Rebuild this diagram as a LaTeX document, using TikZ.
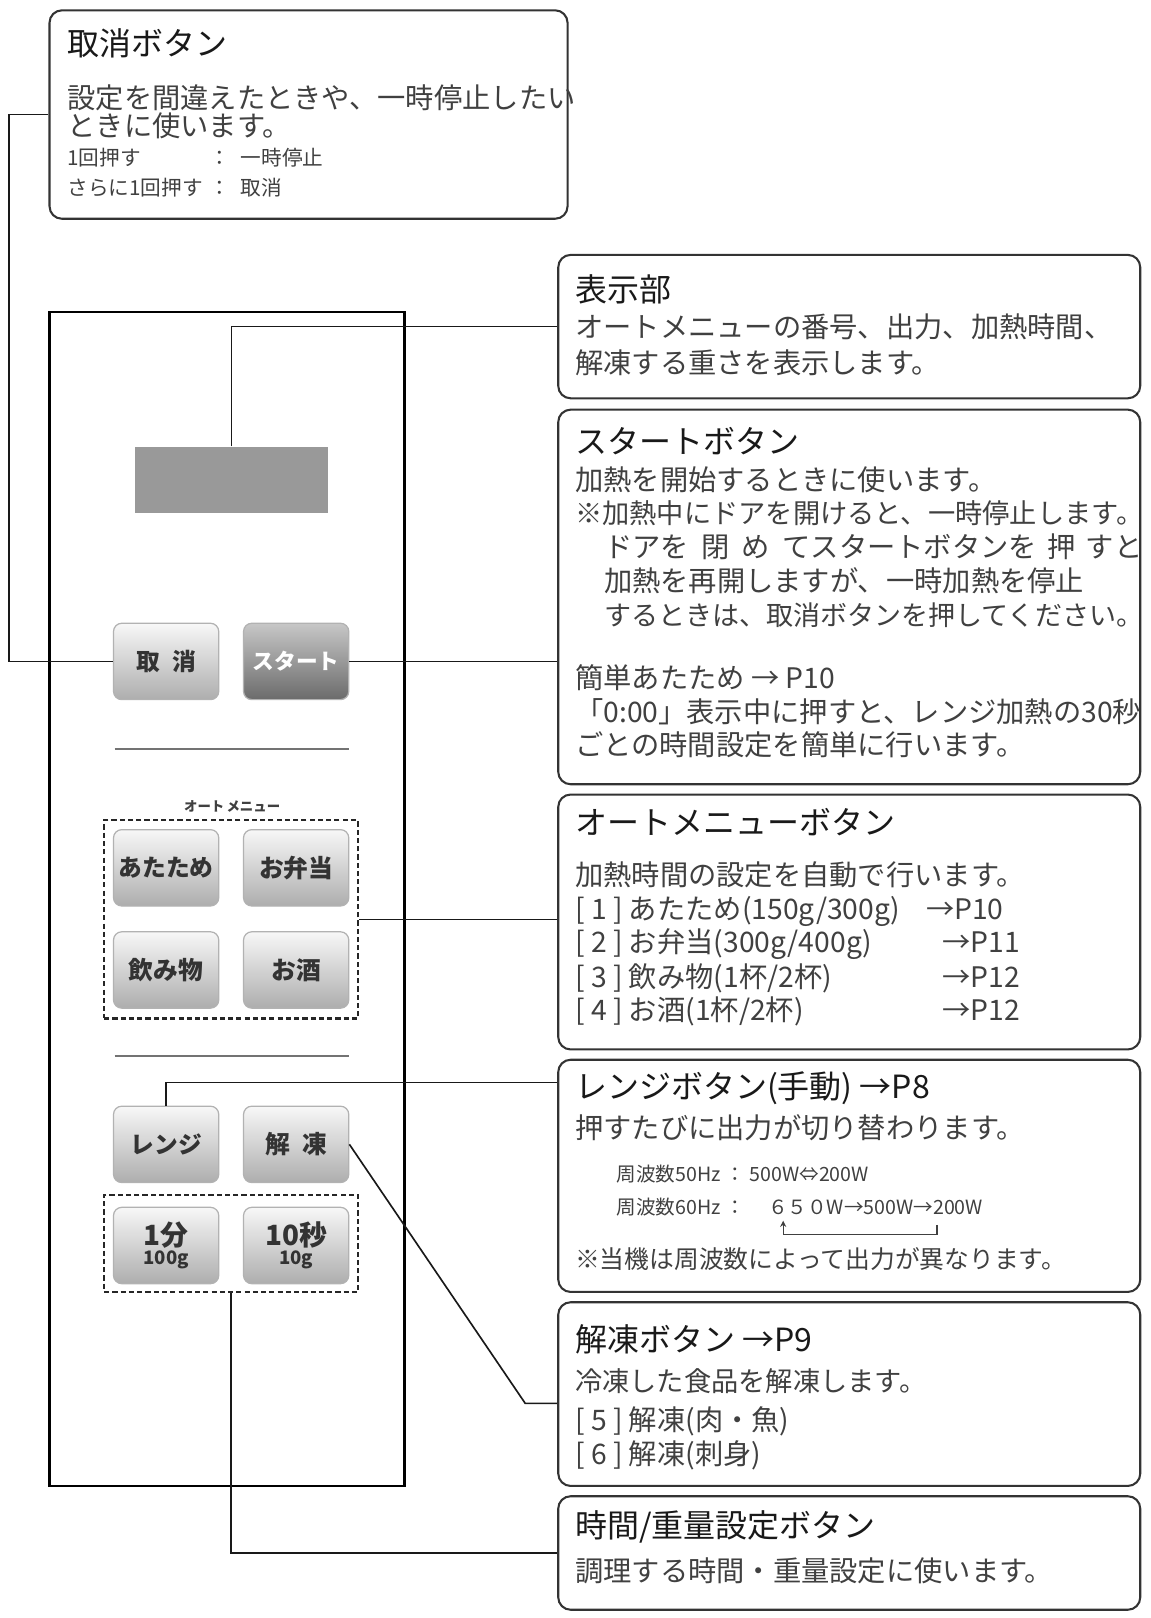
\documentclass[tikz,border=0pt]{standalone}
\usepackage{fontspec}
\setmainfont{Noto Sans CJK JP}
\usetikzlibrary{positioning, arrows.meta, calc}
\tikzset{
  callout/.style   = {draw=black!80, line width=1pt, rounded corners=6pt, inner sep=0pt},
  panelkey/.style  = {draw=black!30, line width=0.6pt, rounded corners=4pt, top color=black!3, bottom color=black!32,
                      minimum width=51pt, minimum height=37pt, inner sep=0pt, align=center, text=black!80,
                      font=\bfseries\fontsize{11.5pt}{12pt}\selectfont},
  startkey/.style  = {panelkey, top color=black!22, bottom color=black!58, text=white},
  keygroup/.style  = {draw=black!85, line width=1pt, dash pattern=on 2.5pt off 1.5pt, minimum width=123pt, inner sep=0pt},
  lead/.style      = {draw=black!90, line width=0.8pt},
  divider/.style   = {draw=black!55, line width=1pt},
  ttl/.style       = {anchor=west, inner sep=0pt, text=black!90, font=\fontsize{15.5pt}{17pt}\selectfont},
  body/.style      = {anchor=west, inner sep=0pt, text=black!75, font=\fontsize{13.7pt}{15pt}\selectfont},
  notetxt/.style   = {body, font=\fontsize{12pt}{13pt}\selectfont},
  smalltxt/.style  = {body, font=\fontsize{10pt}{11pt}\selectfont}
}

\begin{document}
\begin{tikzpicture}[x=0.5pt, y=-0.5pt]

    \useasboundingbox (0,0) rectangle (1115,1568);
    \clip (0,0) rectangle (1115,1568);

    % --- Control panel ------------------------------------------------------
    \draw[line width=1pt] (48,302) rectangle (392,1440);
    \node[fill=black!40, minimum width=93.5pt, minimum height=32pt, inner sep=0pt] (disp) at (224.5,465) {};

    \node[panelkey] (cancelkey) at (161,641) {取\hspace{6pt}消};
    \node[startkey, font=\bfseries\fontsize{10.5pt}{12pt}\selectfont] (startkey) at (287,641) {スタート};

    \draw[divider] (111,726) -- (338,726);
    \node[font=\bfseries\fontsize{6.5pt}{7pt}\selectfont, text=black!75, inner sep=0pt] (amlabel) at (225,782) {オート\,メニュー};
    \node[keygroup, minimum height=96pt] (automenu) at (224,891) {};
    \node[panelkey] (atatame) at (161,841) {あたため};
    \node[panelkey, font=\bfseries\fontsize{12pt}{13pt}\selectfont] (bento) at (287,841) {お弁当};
    \node[panelkey, font=\bfseries\fontsize{12pt}{13pt}\selectfont] (nomimono) at (161,940) {飲み物};
    \node[panelkey, font=\bfseries\fontsize{12pt}{13pt}\selectfont] (osake) at (287,940) {お酒};
    \draw[divider] (111,1023) -- (338,1023);

    \node[panelkey] (rangekey) at (161,1109) {レンジ};
    \node[panelkey, font=\bfseries\fontsize{12pt}{13pt}\selectfont] (kaitokey) at (287,1109) {解\hspace{6pt}凍};
    \node[keygroup, minimum height=47pt] (timegrp) at (224,1205) {};
    \node[panelkey] (minkey) at (161,1207)
      {{\fontsize{13.5pt}{14pt}\selectfont 1分}\\[-3pt]{\fontsize{9pt}{10pt}\selectfont 100g}};
    \node[panelkey] (seckey) at (287,1207)
      {{\fontsize{13.5pt}{14pt}\selectfont 10秒}\\[-3pt]{\fontsize{9pt}{10pt}\selectfont 10g}};

    % --- Callout boxes ------------------------------------------------------
    \node[callout, minimum width=251pt, minimum height=101pt] (cancelbox) at (299,111) {};
    \node[ttl]  at (65,42)  {取消ボタン};
    \node[body] at (65,95)  {設定を間違えたときや、一時停止したい};
    \node[body] at (65,122) {ときに使います。};
    \node[smalltxt] at (65,153) {\makebox[69pt][l]{1回押す}：\hspace{5pt}一時停止};
    \node[smalltxt] at (65,182) {\makebox[69pt][l]{さらに1回押す}：\hspace{5pt}取消};

    \node[callout, minimum width=282pt, minimum height=69.5pt] (hyojibox) at (823,316.5) {};
    \node[ttl]  at (557,280) {表示部};
    \node[body] at (557,317) {オートメニューの番号、出力、加熱時間、};
    \node[body] at (557,352) {解凍する重さを表示します。};

    \node[callout, minimum width=282pt, minimum height=181.5pt] (startbox) at (823,578.5) {};
    \node[ttl]  at (557,427) {スタートボタン};
    \node[body] at (557,465) {加熱を開始するときに使います。};
    \node[body, font=\fontsize{13.2pt}{15pt}\selectfont] at (557,497) {※加熱中にドアを開けると、一時停止します。};
    \node[body] at (585,530) {ドアを\hspace{6pt}閉\hspace{6pt}め\hspace{6pt}てスタートボタンを\hspace{5pt}押\hspace{5pt}すと};
    \node[body] at (585,563) {加熱を再開しますが、一時加熱を停止};
    \node[body, font=\fontsize{13.1pt}{15pt}\selectfont] at (585,596) {するときは、取消ボタンを押してください。};
    \node[body] at (557,657) {簡単あたため → P10};
    \node[body] at (557,690) {「0:00」表示中に押すと、レンジ加熱の30秒};
    \node[body] at (557,722) {ごとの時間設定を簡単に行います。};

    \node[callout, minimum width=282pt, minimum height=123.5pt] (autobox) at (823,893.5) {};
    \node[ttl]  at (557,797) {オートメニューボタン};
    \node[body] at (557,848) {加熱時間の設定を自動で行います。};
    \node[body] at (557,883) {\makebox[170pt][l]{[ 1 ] あたため(150g/300g)}→P10};
    \node[body] at (557,915) {\makebox[178pt][l]{[ 2 ] お弁当(300g/400g)}→P11};
    \node[body] at (557,948) {\makebox[178pt][l]{[ 3 ] 飲み物(1杯/2杯)}→P12};
    \node[body] at (557,980) {\makebox[178pt][l]{[ 4 ] お酒(1杯/2杯)}→P12};

    \node[callout, minimum width=282pt, minimum height=112.5pt] (rangebox) at (823,1139.5) {};
    \node[ttl]  at (557,1055) {レンジボタン(手動) →P8};
    \node[body] at (557,1093) {押すたびに出力が切り替わります。};
    \node[smalltxt, font=\fontsize{9.5pt}{11pt}\selectfont] (hz50) at (597,1138)
      {\makebox[53pt][l]{周波数50Hz}：\hspace{2pt}500W⇔200W};
    \node[smalltxt, font=\fontsize{9.5pt}{11pt}\selectfont] (hz60) at (597,1170)
      {\makebox[53pt][l]{周波数60Hz}：\hspace{11pt}６５０W→500W→200W};
    \coordinate (pw650) at (759,1183);
    \coordinate (pw200) at (908,1187);
    \draw[line width=0.6pt, black!75, -{Stealth[length=3pt, width=3pt]}] (pw200) -- ++(0,9) -| (pw650);
    \node[notetxt] at (557,1220) {※当機は周波数によって出力が異なります。};

    \node[callout, minimum width=282pt, minimum height=89pt] (kaitobox) at (823,1351) {};
    \node[ttl]  at (557,1298) {解凍ボタン →P9};
    \node[body, font=\fontsize{13.2pt}{14pt}\selectfont] at (557,1338) {冷凍した食品を解凍します。};
    \node[body] at (557,1377) {[ 5 ] 解凍(肉・魚)};
    \node[body] at (557,1410) {[ 6 ] 解凍(刺身)};

    \node[callout, minimum width=282pt, minimum height=55pt] (jikanbox) at (823,1505) {};
    \node[ttl]  at (557,1480) {時間/重量設定ボタン};
    \node[body] at (557,1522) {調理する時間・重量設定に使います。};

    % --- Leader lines -------------------------------------------------------
    \draw[lead] (cancelbox.west) -- ++(-38,0) |- (cancelkey.west);
    \draw[lead] (disp.north) |- (hyojibox.west);
    \draw[lead] (startkey.east) -- (startkey.east -| startbox.west);
    \draw[lead] (automenu.east) -- (automenu.east -| autobox.west);
    \draw[lead] (rangekey.north) |- ($(rangebox.north west)+(0,23)$);
    \draw[lead] (kaitokey.east) -- ($(kaitobox.west)+(-31,9)$) -- ($(kaitobox.west)+(0,9)$);
    \draw[lead] (timegrp.south) |- (jikanbox.west);

\end{tikzpicture}
\end{document}
